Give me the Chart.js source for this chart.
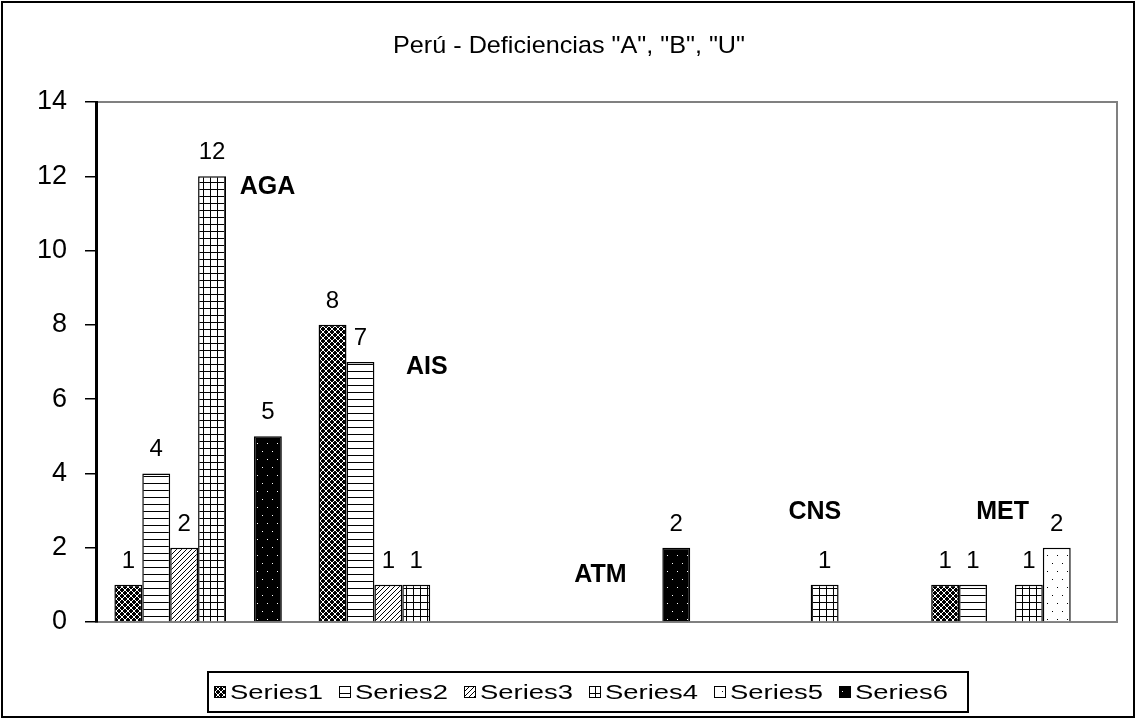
<!DOCTYPE html>
<html>
<head>
<meta charset="utf-8">
<title>Perú - Deficiencias</title>
<script src="https://cdn.jsdelivr.net/npm/chart.js@4.4.1/dist/chart.umd.min.js"></script>
<style>
  body { margin: 0; background: #fff; }
  #wrap { width: 1136px; height: 719px; }
</style>
</head>
<body>
<div id="wrap"><canvas id="myChart" width="1136" height="719"></canvas></div>
<script>
// data
const categories = ["AGA", "AIS", "ATM", "CNS", "MET"];
const seriesNames = ["Series1", "Series2", "Series3", "Series4", "Series5", "Series6"];
const series1 = [1, 8, null, null, 1];
const series2 = [4, 7, null, null, 1];
const series3 = [2, 1, null, null, null];
const series4 = [12, 1, null, 1, 1];
const series5 = [null, null, null, null, 2];
const series6 = [5, null, 2, null, null];
const yTicks = [0, 2, 4, 6, 8, 10, 12, 14];
// where the bold category names sit (value on the y axis, shift in category widths)
const catLabelValue = [11.7, 6.85, 1.25, 2.95, 2.95];
const catLabelShift = [0.34, 0.12, -0.03, 0.02, -0.06];
const chartTitle = 'Perú - Deficiencias "A", "B", "U"';

// fill patterns like the old excel hatches
function makePattern(w, h, bg, fg, isOn) {
    let c = document.createElement('canvas');
    c.width = w; c.height = h;
    let g = c.getContext('2d');
    g.fillStyle = bg;
    g.fillRect(0, 0, w, h);
    g.fillStyle = fg;
    for (let y = 0; y < h; y++) {
        for (let x = 0; x < w; x++) {
            if (isOn(x, y)) g.fillRect(x, y, 1, 1);
        }
    }
    return g.createPattern(c, 'repeat');
}

// draw text squeezed/stretched to a given width
function fitText(c, text, x, y, width) {
    let w = c.measureText(text).width;
    c.save();
    c.translate(x, y);
    c.scale(width / w, 1);
    c.fillText(text, 0, 0);
    c.restore();
}

const ctx = document.getElementById('myChart').getContext('2d');
const patterns = [
    makePattern(6, 6, '#000', '#fff', (x, y) => (x + y) % 6 == 0 || (x - y + 6) % 6 == 3),
    makePattern(1, 7, '#fff', '#000', (x, y) => y == 0),
    makePattern(5, 5, '#fff', '#000', (x, y) => (x + y) % 5 == 0),
    makePattern(7, 7, '#fff', '#000', (x, y) => x == 0 || y == 0),
    makePattern(10, 16, '#fff', '#000', (x, y) => (x == 2 && y == 3) || (x == 7 && y == 11)),
    makePattern(10, 16, '#000', '#fff', (x, y) => (x == 2 && y == 3) || (x == 7 && y == 11))
];

const allSeries = [series1, series2, series3, series4, series5, series6];
const datasets = allSeries.map((d, i) => ({
    label: seriesNames[i],
    data: d,
    backgroundColor: patterns[i],
    borderColor: '#000',
    borderWidth: 1.5,
    borderSkipped: 'bottom'
}));

const framePlugin = {
    id: 'frame',
    beforeDraw(chart) {
        const c = chart.ctx, a = chart.chartArea;
        c.save();
        c.fillStyle = '#fff';
        c.fillRect(0, 0, chart.width, chart.height);
        c.strokeStyle = '#000';
        c.lineWidth = 2;
        c.strokeRect(2, 2, chart.width - 4, chart.height - 4);
        c.strokeStyle = '#808080';
        c.lineWidth = 2;
        c.strokeRect(a.left, a.top, a.right - a.left, a.bottom - a.top);
        c.restore();
    },
    afterDraw(chart) {
        const c = chart.ctx;
        const xs = chart.scales.x, ys = chart.scales.y;
        c.save();
        // title
        c.fillStyle = '#000';
        c.font = '24px "Liberation Sans", Arial, sans-serif';
        c.textAlign = 'left';
        c.textBaseline = 'middle';
        fitText(c, chartTitle, 393, 46, 352);

        // value labels above bars
        c.textAlign = 'center';
        c.font = '24px "Liberation Sans", Arial, sans-serif';
        c.textBaseline = 'alphabetic';
        chart.data.datasets.forEach((ds, i) => {
            chart.getDatasetMeta(i).data.forEach((bar, j) => {
                if (ds.data[j] == null) return;
                c.fillText(String(ds.data[j]), bar.x, bar.y - 17);
            });
        });

        // bold category names inside the plot
        c.font = 'bold 25px "Liberation Sans", Arial, sans-serif';
        c.textBaseline = 'middle';
        const catW = xs.getPixelForValue(1) - xs.getPixelForValue(0);
        categories.forEach((name, j) => {
            let x = xs.getPixelForValue(j) + catLabelShift[j] * catW;
            let y = ys.getPixelForValue(catLabelValue[j]);
            c.fillText(name, x, y);
        });

        // legend box at the bottom
        const lx = 208, ly = 672, lw = 760, lh = 40;
        c.strokeStyle = '#000';
        c.lineWidth = 2;
        c.strokeRect(lx, ly, lw, lh);
        c.font = '20px "Liberation Sans", Arial, sans-serif';
        c.textAlign = 'left';
        const pitch = (lw - 10) / seriesNames.length;
        seriesNames.forEach((name, i) => {
            let x = lx + 6 + i * pitch;
            let y = ly + lh / 2;
            c.fillStyle = patterns[i];
            c.fillRect(x, y - 6, 12, 12);
            c.strokeStyle = '#000';
            c.lineWidth = 1;
            c.strokeRect(x + 0.5, y - 5.5, 11, 11);
            c.fillStyle = '#000';
            fitText(c, name, x + 16, y + 1, pitch - 32);
        });
        c.restore();
    }
};

new Chart(ctx, {
    type: 'bar',
    data: {
        labels: categories,
        datasets: datasets
    },
    options: {
        responsive: false,
        animation: false,
        devicePixelRatio: 1,
        layout: { padding: { top: 102, left: 36, right: 19, bottom: 97 } },
        datasets: { bar: { categoryPercentage: 0.82, barPercentage: 1 } },
        plugins: {
            legend: { display: false },
            title: { display: false },
            tooltip: { enabled: false }
        },
        scales: {
            x: { display: false },
            y: {
                min: 0,
                max: 14,
                afterFit: (s) => { s.width = 60; },
                afterBuildTicks: (s) => { s.ticks = yTicks.map(v => ({ value: v })); },
                ticks: {
                    color: '#000',
                    padding: 18,
                    font: { family: '"Liberation Sans", Arial, sans-serif', size: 27 }
                },
                grid: { drawOnChartArea: false, drawTicks: true, tickLength: 11, color: '#000', lineWidth: 1.5 },
                border: { color: '#000', width: 3 }
            }
        }
    },
    plugins: [framePlugin]
});
</script>
</body>
</html>
